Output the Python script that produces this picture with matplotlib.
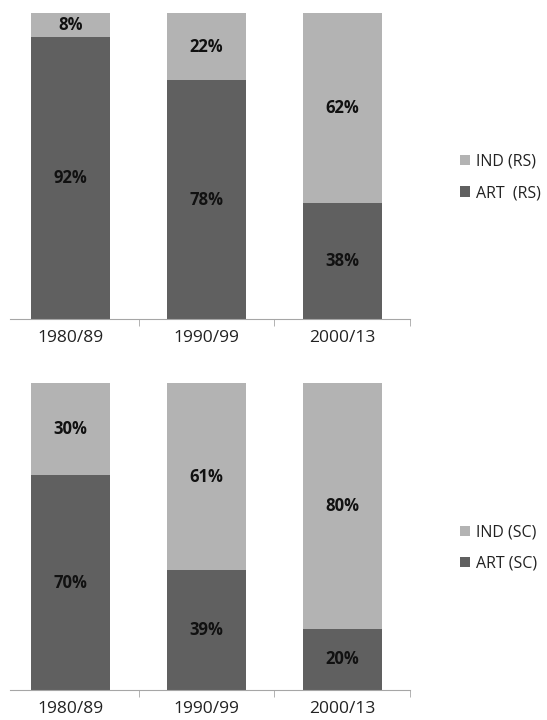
import matplotlib.pyplot as plt
import numpy as np

periods = ['1980/89', '1990/99', '2000/13']
art_rs = [92, 78, 38]
ind_rs = [8, 22, 62]
art_sc = [70, 39, 20]
ind_sc = [30, 61, 80]

dark = '#606060'
light = '#b3b3b3'

plt.rcParams['font.family'] = ['Open Sans', 'DejaVu Sans']

fig = plt.figure(figsize=(5.47, 7.2), dpi=100)


def stacked(ax, art, ind, art_lbl, ind_lbl, legend_y):
    x = np.arange(len(periods))
    b1 = ax.bar(x, art, width=0.585, color=dark, label=art_lbl)
    b2 = ax.bar(x, ind, width=0.585, bottom=art, color=light, label=ind_lbl)
    for i in range(len(periods)):
        ax.text(x[i], art[i] / 2, '%d%%' % art[i], ha='center', va='center',
                fontsize=12, fontweight='bold', color='#111111')
        ax.text(x[i], art[i] + ind[i] / 2, '%d%%' % ind[i], ha='center', va='center',
                fontsize=12, fontweight='bold', color='#111111')
    ax.set_xlim(-0.5, 2.5)
    ax.set_ylim(0, 100)
    for s in ['top', 'right', 'left']:
        ax.spines[s].set_visible(False)
    ax.spines['bottom'].set_color('#a6a6a6')
    ax.spines['bottom'].set_bounds(-0.45, 2.5)
    ax.set_yticks([])
    ax.set_xticks(x)
    ax.set_xticklabels(periods, fontsize=12.5, color='#222222')
    ax.tick_params(axis='x', which='major', length=0, pad=8)
    ax.set_xticks([0.5, 1.5, 2.5], minor=True)
    ax.tick_params(axis='x', which='minor', length=5, color='#a6a6a6', direction='out')
    fig.legend([b2, b1], [ind_lbl, art_lbl], loc='center left',
               bbox_to_anchor=(0.815, legend_y), frameon=False, fontsize=11.5,
               handlelength=0.6, handleheight=0.6, handletextpad=0.4,
               labelspacing=0.95, labelcolor='#222222')


ax1 = fig.add_axes([0.005, 1 - 319 / 720, 0.745, 306 / 720])
stacked(ax1, art_rs, ind_rs, 'ART  (RS)', 'IND (RS)', 1 - 177.5 / 720)

ax2 = fig.add_axes([0.005, 1 - 690 / 720, 0.745, 307 / 720])
stacked(ax2, art_sc, ind_sc, 'ART (SC)', 'IND (SC)', 1 - 548 / 720)

fig.savefig('out.png', dpi=100)
